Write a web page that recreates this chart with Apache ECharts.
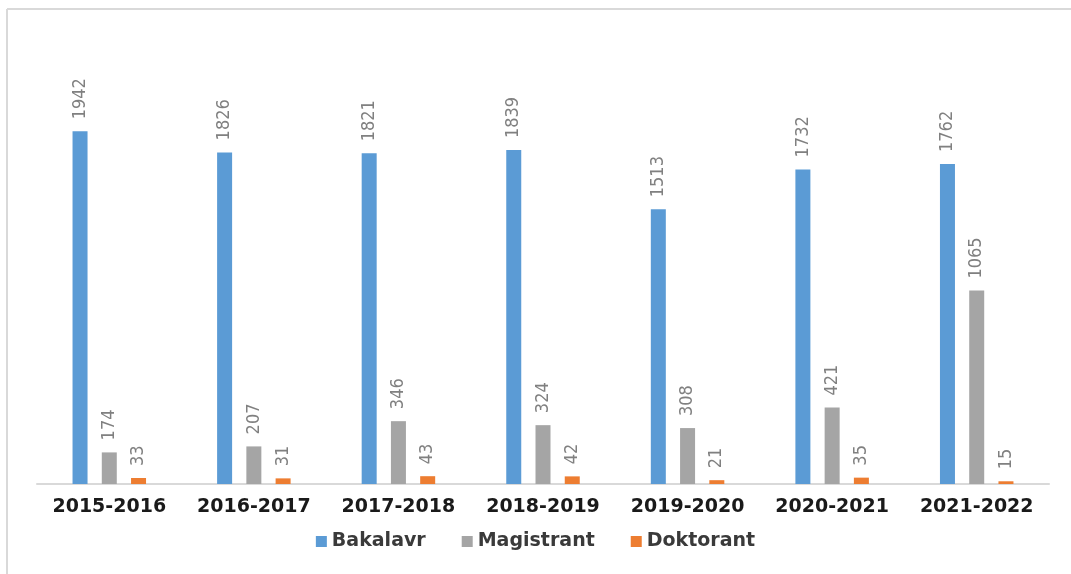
<!DOCTYPE html>
<html>
<head>
<meta charset="utf-8">
<script src="https://cdn.jsdelivr.net/npm/echarts@6/dist/echarts.min.js"></script>
<style>
  html, body { margin: 0; padding: 0; background: #fff; overflow: hidden; }
  #chart { width: 1071px; height: 574px; }
</style>
</head>
<body>
<div id="chart"></div>
<script>
// 学年类别
const years = ['2015-2016', '2016-2017', '2017-2018', '2018-2019', '2019-2020', '2020-2021', '2021-2022']
const bakalavr = [1942, 1826, 1821, 1839, 1513, 1732, 1762]
const magistrant = [174, 207, 346, 324, 308, 421, 1065]
const doktorant = [33, 31, 43, 42, 21, 35, 15]

const chart = echarts.init(document.getElementById('chart'))

const barLabel = {
  show: true,
  position: 'top',
  rotate: 90,
  align: 'left',
  verticalAlign: 'middle',
  distance: 12,
  color: '#808080',
  fontFamily: '"DejaVu Sans Condensed", "Liberation Sans Narrow", sans-serif',
  fontSize: 18
}

const makeSeries = (name, data, color) => ({
  name,
  type: 'bar',
  data,
  barWidth: 15,
  barGap: '95%',
  itemStyle: { color },
  label: barLabel
})

chart.setOption({
  animation: false,
  graphic: [
    {
      type: 'line',
      shape: { x1: 7, y1: 9, x2: 1071, y2: 9 },
      style: { stroke: '#d9d9d9', lineWidth: 2 }
    },
    {
      type: 'line',
      shape: { x1: 7, y1: 9, x2: 7, y2: 574 },
      style: { stroke: '#d9d9d9', lineWidth: 2 }
    }
  ],
  grid: {
    left: 37,
    right: 22,
    top: 30,
    bottom: 90
  },
  legend: {
    data: ['Bakalavr', 'Magistrant', 'Doktorant'],
    left: 'center',
    top: 527,
    itemWidth: 11,
    itemHeight: 11,
    itemGap: 36,
    icon: 'rect',
    textStyle: {
      color: '#3a3a3a',
      fontFamily: '"DejaVu Sans", sans-serif',
      fontWeight: 'bold',
      fontSize: 19
    }
  },
  xAxis: {
    type: 'category',
    data: years,
    axisLine: {
      lineStyle: { color: '#d9d9d9', width: 2 }
    },
    axisTick: { show: false },
    axisLabel: {
      interval: 0,
      color: '#1a1a1a',
      fontFamily: '"DejaVu Sans", sans-serif',
      fontWeight: 'bold',
      fontSize: 19,
      margin: 14
    }
  },
  yAxis: {
    type: 'value',
    min: 0,
    max: 2500,
    show: false,
    splitLine: { show: false }
  },
  series: [
    makeSeries('Bakalavr', bakalavr, '#5b9bd5'),
    makeSeries('Magistrant', magistrant, '#a5a5a5'),
    makeSeries('Doktorant', doktorant, '#ed7d31')
  ]
})
</script>
</body>
</html>
